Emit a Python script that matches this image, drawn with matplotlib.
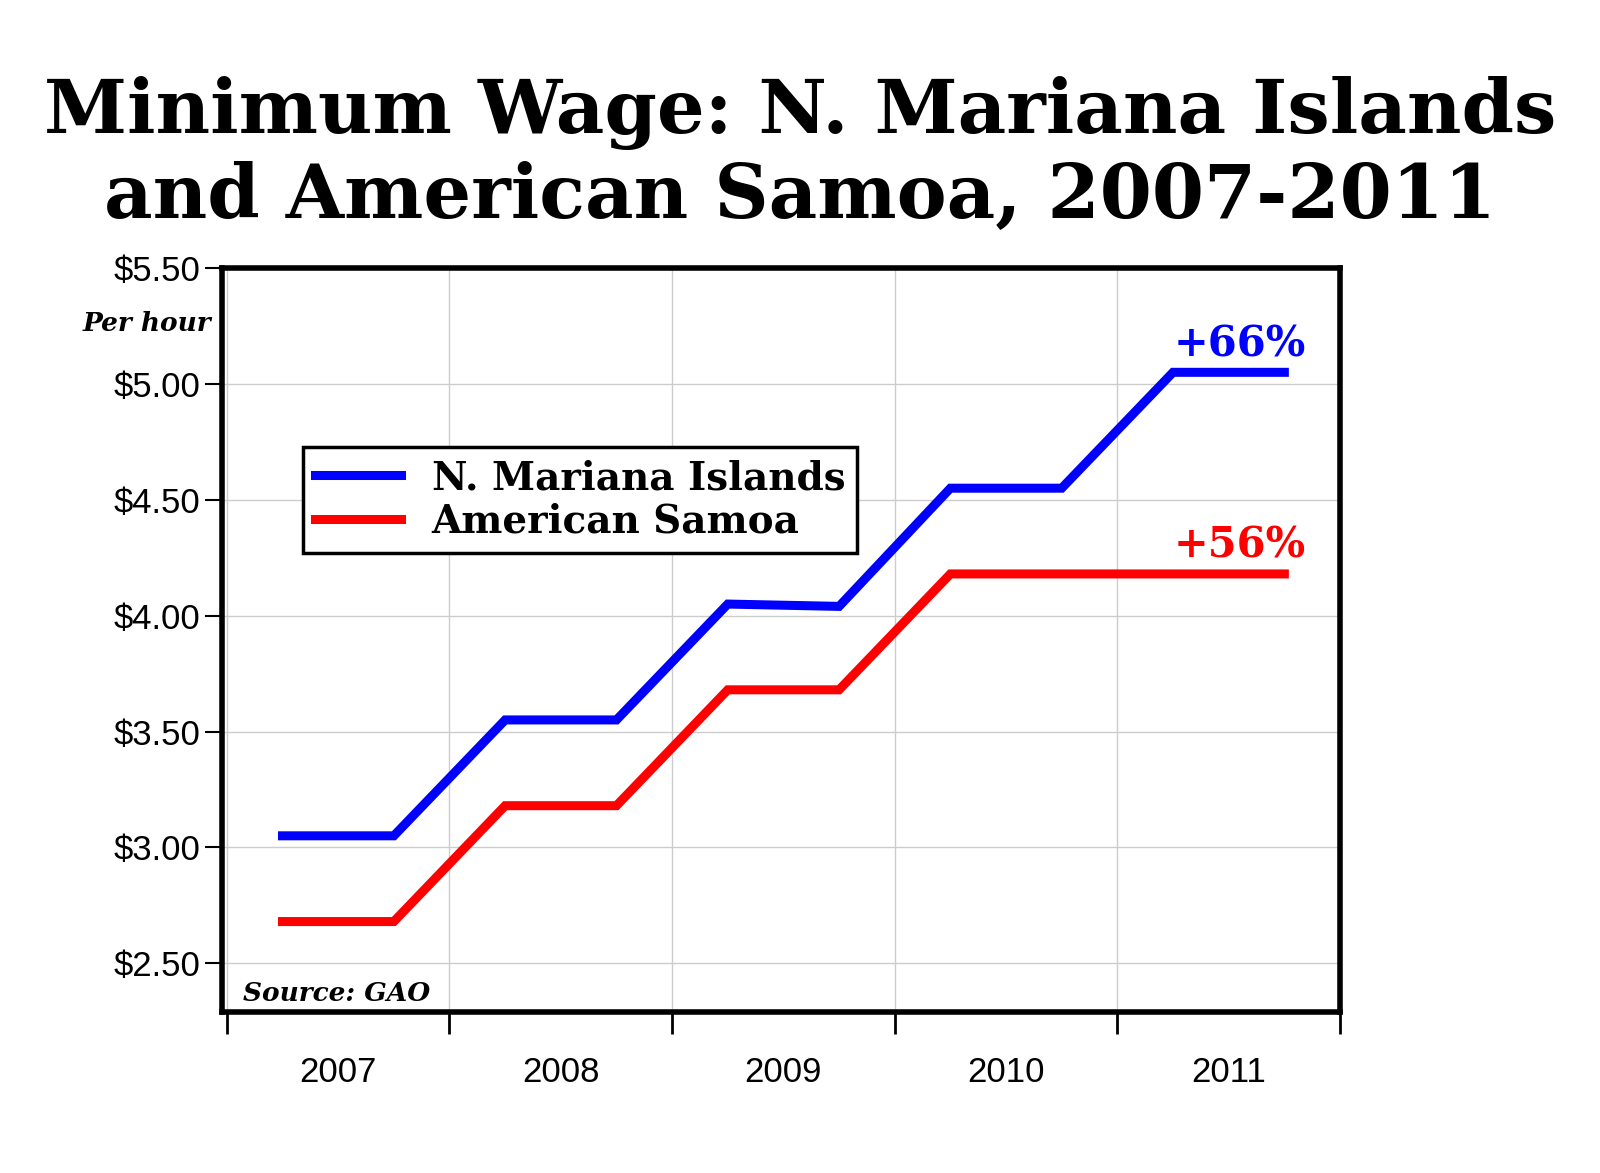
import matplotlib
matplotlib.use("Agg")
import matplotlib.pyplot as plt

x = [2006.75, 2007.25, 2007.75, 2008.25, 2008.75, 2009.25, 2009.75, 2010.25, 2010.75, 2011.25]
nmi = [3.05, 3.05, 3.55, 3.55, 4.05, 4.04, 4.55, 4.55, 5.05, 5.05]
samoa = [2.68, 2.68, 3.18, 3.18, 3.68, 3.68, 4.18, 4.18, 4.18, 4.18]
years = [2007, 2008, 2009, 2010, 2011]
yticks = [2.5, 3.0, 3.5, 4.0, 4.5, 5.0, 5.5]

fig = plt.figure(figsize=(16, 11.73), dpi=100)
ax = fig.add_axes([0.139, 0.1373, 0.6985, 0.6342])
ax.plot(x, nmi, color="#0000ff", lw=6.5, label="N. Mariana Islands", solid_joinstyle="miter")
ax.plot(x, samoa, color="#ff0000", lw=6.5, label="American Samoa", solid_joinstyle="miter")
ax.set_xlim(2006.48, 2011.5)
ax.set_ylim(2.29, 5.5)
ax.set_yticks(yticks)
ax.set_yticklabels([f"${v:.2f}" for v in yticks], fontsize=25, family="Liberation Sans")
bounds = [2006.5, 2007.5, 2008.5, 2009.5, 2010.5, 2011.5]
ax.set_xticks(bounds)
ax.set_xticklabels([""] * len(bounds))
ax.set_xticks(years, minor=True)
ax.set_xticklabels([str(y) for y in years], minor=True, fontsize=25, family="Liberation Sans")
ax.tick_params(axis="x", which="major", direction="out", length=16, width=2, pad=2)
ax.tick_params(axis="x", which="minor", length=0, pad=32)
ax.tick_params(axis="y", direction="out", length=12, width=1.5, pad=4)
ax.grid(True, color="#cccccc", lw=1)
for s in ax.spines.values():
    s.set_linewidth(4)
ax.legend(loc="upper left", bbox_to_anchor=(0.055, 0.785), fancybox=False, edgecolor="black",
          framealpha=1, prop={"family": "DejaVu Serif", "weight": "bold", "size": 28},
          handlelength=2.2, borderpad=0.3, labelspacing=0.15).get_frame().set_linewidth(2.5)
ax.text(2011.05, 5.12, "+66%", color="#0000ff", fontsize=30, weight="bold", family="DejaVu Serif", ha="center")
ax.text(2011.05, 4.25, "+56%", color="#ff0000", fontsize=30, weight="bold", family="DejaVu Serif", ha="center")
ax.text(0.018, 0.015, "Source: GAO", transform=ax.transAxes, fontsize=19, weight="bold",
        style="italic", family="DejaVu Serif")
fig.text(0.092, 0.718, "Per hour", fontsize=19, weight="bold", style="italic", family="DejaVu Serif", ha="center")
fig.text(0.5, 0.868, "Minimum Wage: N. Mariana Islands\nand American Samoa, 2007-2011", ha="center",
         va="center", fontsize=54, weight="bold", family="DejaVu Serif", linespacing=1.2)
fig.savefig("out.png", dpi=100, facecolor="white")
